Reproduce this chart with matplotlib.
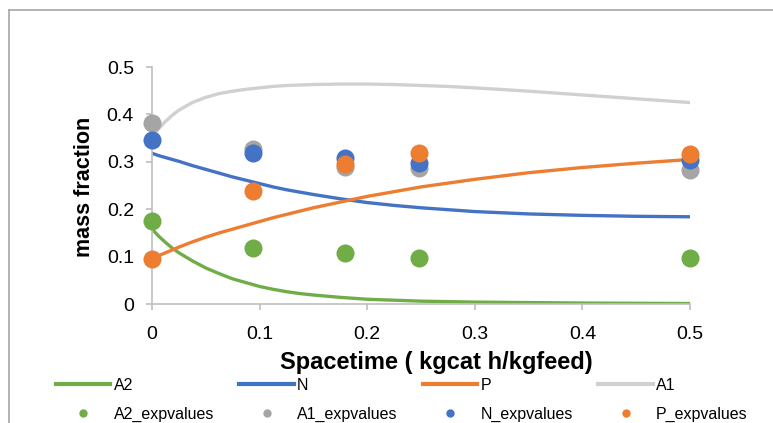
import matplotlib
matplotlib.use("Agg")
import matplotlib.pyplot as plt
from matplotlib.lines import Line2D

plt.rcParams['font.family'] = ['Liberation Sans', 'DejaVu Sans']

# model curves
x_model = [0, 0.00625, 0.0125, 0.01875, 0.025, 0.0375, 0.05, 0.0625, 0.075, 0.0875, 0.1,
           0.1125, 0.125, 0.1375, 0.15, 0.175, 0.2, 0.225, 0.25, 0.275, 0.3, 0.35, 0.4, 0.45, 0.5]
A2_model = [0.158, 0.143, 0.130, 0.118, 0.108, 0.091, 0.076, 0.064, 0.053, 0.045, 0.037,
            0.031, 0.026, 0.022, 0.019, 0.014, 0.010, 0.008, 0.006, 0.005, 0.004, 0.003, 0.002, 0.0015, 0.001]
N_model = [0.318, 0.313, 0.309, 0.305, 0.301, 0.292, 0.284, 0.276, 0.268, 0.261, 0.254,
           0.247, 0.241, 0.236, 0.231, 0.222, 0.214, 0.208, 0.203, 0.199, 0.195, 0.19, 0.187, 0.185, 0.184]
P_model = [0.095, 0.102, 0.108, 0.114, 0.120, 0.131, 0.141, 0.150, 0.158, 0.166, 0.174,
           0.182, 0.189, 0.196, 0.203, 0.215, 0.227, 0.237, 0.247, 0.255, 0.263, 0.277, 0.288, 0.297, 0.305]
A1_model = [0.352, 0.370, 0.385, 0.398, 0.409, 0.425, 0.436, 0.444, 0.449, 0.453, 0.456,
            0.459, 0.461, 0.462, 0.463, 0.464, 0.464, 0.463, 0.461, 0.459, 0.456, 0.449, 0.441, 0.433, 0.425]

# experimental values
x_exp = [0, 0.094, 0.179, 0.248, 0.5]
A2_exp = [0.176, 0.118, 0.108, 0.098, 0.098]
A1_exp = [0.382, 0.328, 0.288, 0.286, 0.283]
N_exp = [0.346, 0.318, 0.307, 0.297, 0.304]
P_exp = [0.095, 0.239, 0.295, 0.318, 0.316]

x_ticks = [0, 0.1, 0.2, 0.3, 0.4, 0.5]
x_ticklabels = ['0', '0.1', '0.2', '0.3', '0.4', '0.5']
y_ticks = [0, 0.1, 0.2, 0.3, 0.4, 0.5]
y_ticklabels = ['0', '0.1', '0.2', '0.3', '0.4', '0.5']

GREEN = '#70AD47'
BLUE = '#4472C4'
ORANGE = '#ED7D31'
LGREY = '#D0D0D0'
GREY = '#A5A5A5'
AXGREY = '#BFBFBF'

W, H = 773, 423
fig = plt.figure(figsize=(W / 100, H / 100), dpi=100)
ax = fig.add_axes([152 / W, 1 - 304 / H, (690 - 152) / W, (304 - 67) / H])

lw = 2.4
ax.plot(x_model, A2_model, color=GREEN, lw=lw, solid_capstyle='round', solid_joinstyle='round')
ax.plot(x_model, N_model, color=BLUE, lw=lw, solid_capstyle='round', solid_joinstyle='round')
ax.plot(x_model, P_model, color=ORANGE, lw=lw, solid_capstyle='round', solid_joinstyle='round')
ax.plot(x_model, A1_model, color=LGREY, lw=lw, solid_capstyle='round', solid_joinstyle='round')

ms = 13
for ys, c in [(A2_exp, GREEN), (A1_exp, GREY), (N_exp, BLUE), (P_exp, ORANGE)]:
    ax.plot(x_exp, ys, 'o', color=c, ms=ms, mec='none', clip_on=False, zorder=3)

ax.set_xlim(0, 0.5)
ax.set_ylim(0, 0.5)
ax.set_xticks(x_ticks)
ax.set_xticklabels(x_ticklabels)
ax.set_yticks(y_ticks)
ax.set_yticklabels(y_ticklabels)
for s in ['top', 'right']:
    ax.spines[s].set_visible(False)
for s in ['left', 'bottom']:
    ax.spines[s].set_color(AXGREY)
    ax.spines[s].set_linewidth(1.2)
ax.tick_params(axis='both', colors=AXGREY, labelcolor='black', labelsize=14, length=4, width=1.2)
ax.tick_params(axis='x', pad=12)
ax.tick_params(axis='y', pad=9)

ax.set_xlabel('Spacetime ( kgcat h/kgfeed)', fontsize=17, fontweight='bold')
ax.xaxis.set_label_coords(436 / W, 1 - 362 / H, transform=fig.transFigure)
ax.set_ylabel('mass fraction', fontsize=15.5, fontweight='bold')
ax.yaxis.set_label_coords(85 / W, 1 - 187 / H, transform=fig.transFigure)
ax.xaxis.label.set_va('center')
ax.yaxis.label.set_va('center')

handles = [
    Line2D([], [], color=GREEN, lw=3),
    Line2D([], [], ls='none', marker='o', color=GREEN, ms=6, mec='none'),
    Line2D([], [], color=BLUE, lw=3),
    Line2D([], [], ls='none', marker='o', color=GREY, ms=6, mec='none'),
    Line2D([], [], color=ORANGE, lw=3),
    Line2D([], [], ls='none', marker='o', color=BLUE, ms=6, mec='none'),
    Line2D([], [], color=LGREY, lw=3),
    Line2D([], [], ls='none', marker='o', color=ORANGE, ms=6, mec='none'),
]
labels = ['A2', 'A2_expvalues', 'N', 'A1_expvalues', 'P', 'N_expvalues', 'A1', 'P_expvalues']
fig.legend(handles, labels, ncol=4, loc='upper left', bbox_to_anchor=(56 / W, 1 - 378 / H),
           frameon=False, fontsize=11.5, handlelength=3.4, handletextpad=0.2,
           columnspacing=1.6, labelspacing=0.85, borderpad=0, borderaxespad=0)

# chart area border
fig.add_artist(Line2D([9 / W, 9 / W], [0, 1 - 10 / H], color='#A6A6A6', lw=1.2, transform=fig.transFigure))
fig.add_artist(Line2D([9 / W, 1], [1 - 10 / H, 1 - 10 / H], color='#A6A6A6', lw=1.2, transform=fig.transFigure))

fig.savefig('out.png', dpi=100)
